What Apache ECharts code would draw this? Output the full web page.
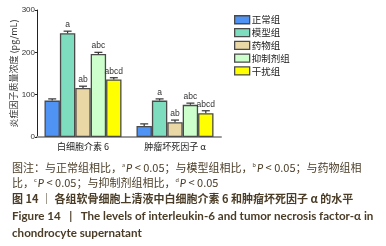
<!DOCTYPE html>
<html><head><meta charset="utf-8">
<script src="https://cdn.jsdelivr.net/npm/echarts@6/dist/echarts.min.js"></script>
<style>html,body{margin:0;padding:0;background:#fff}#c{width:386px;height:246px}</style>
</head><body><div id="c"></div>
<script>
const categories = ['白细胞介素 6', '肿瘤坏死因子 α'];
const groups = ['正常组', '模型组', '药物组', '抑制剂组', '干扰组'];
const normalVals = [86, 26];
const modelVals = [245, 86];
const drugVals = [116, 35];
const inhibVals = [196, 76];
const interfVals = [136, 56];
const normalErr = [90, 31];
const modelErr = [250, 90];
const drugErr = [120, 40];
const inhibErr = [200, 80];
const interfErr = [140, 62];
const normalSig = ['', ''];
const modelSig = ['a', 'a'];
const drugSig = ['ab', 'ab'];
const inhibSig = ['abc', 'abc'];
const interfSig = ['abcd', 'abcd'];
const yTicks = [0, 100, 200, 300];

const vals = [normalVals, modelVals, drugVals, inhibVals, interfVals];
const errs = [normalErr, modelErr, drugErr, inhibErr, interfErr];
const sigs = [normalSig, modelSig, drugSig, inhibSig, interfSig];
const colors = ['#4f94f5', '#7edcbf', '#ead7a6', '#ccffcc', '#ffff00'];
const BW = 15.4;

const series = [];
groups.forEach((g, i) => {
  series.push({
    name: g, type: 'bar', data: vals[i], barWidth: BW, barGap: '0%',
    itemStyle: { color: colors[i], borderColor: '#4a4a4a', borderWidth: 1.3 },
    z: 2
  });
});
groups.forEach((g, i) => {
  series.push({
    type: 'custom', name: g + '_err', z: 5, silent: true,
    data: vals[i].map((v, k) => [k, v, errs[i][k], sigs[i][k]]),
    renderItem: function (params, api) {
      const c = api.value(0);
      const top = api.coord([c, api.value(2)]);
      const base = api.coord([c, api.value(1)]);
      const x = top[0] + (i - 2) * BW;
      const cap = 4;
      const children = [
        { type: 'line', shape: { x1: x, y1: base[1], x2: x, y2: top[1] }, style: { stroke: '#333', lineWidth: 1.2 } },
        { type: 'line', shape: { x1: x - cap, y1: top[1], x2: x + cap, y2: top[1] }, style: { stroke: '#333', lineWidth: 1.2 } }
      ];
      const s = sigs[i][c];
      if (s) {
        children.push({ type: 'text', style: { text: s, x: x, y: top[1] - 2, align: 'center', verticalAlign: 'bottom', fontSize: 8.5, fill: '#333', fontFamily: 'Liberation Sans' } });
      }
      return { type: 'group', children: children };
    }
  });
});

const capColor = '#4a3c26';
const chart = echarts.init(document.getElementById('c'), null, { renderer: 'canvas' });
const rich = {
  t: { fontSize: 11, fontFamily: 'Noto Sans CJK SC', fill: capColor, color: capColor },
  s: { fontSize: 6, fontFamily: 'Lato', verticalAlign: 'top', color: capColor, padding: [0, 1, 6, 0] },
  p: { fontSize: 11, fontFamily: 'Lato', fontStyle: 'italic', color: capColor }
};
function capLine(text, y) {
  return { type: 'text', left: 12, top: y, style: { text: text, rich: rich, fontSize: 11, fontFamily: 'Noto Sans CJK SC', fill: capColor } };
}
chart.setOption({
  animation: false,
  grid: { left: 37, top: 10, width: 184, height: 127 },
  legend: {
    data: groups, orient: 'vertical', left: 229, top: 10,
    itemWidth: 15, itemHeight: 8, itemGap: 3.3, icon: 'rect',
    textStyle: { fontSize: 9.5, color: '#222', fontFamily: 'Noto Sans CJK SC', padding: [0, 0, 0, -3] },
    itemStyle: { borderColor: '#4a4a4a', borderWidth: 1.3 }
  },
  xAxis: {
    type: 'category', data: categories,
    axisLine: { lineStyle: { color: '#9a9a9a', width: 2 } },
    axisTick: { alignWithLabel: true, length: 3, lineStyle: { color: '#9a9a9a' } },
    axisLabel: { fontSize: 9, color: '#222', fontFamily: 'Noto Sans CJK SC', margin: 5 }
  },
  yAxis: {
    type: 'value', min: 0, max: 300, interval: 100,
    name: '炎症因子质量浓度 (pg/mL)', nameLocation: 'middle', nameGap: 18,
    nameTextStyle: { fontSize: 9, color: '#333', fontFamily: 'Noto Sans CJK SC' },
    axisLine: { show: true, lineStyle: { color: '#222', width: 1 } },
    axisTick: { show: true, length: 2, lineStyle: { color: '#222' } },
    axisLabel: { fontSize: 8, color: '#333', margin: 2, fontFamily: 'Liberation Sans', formatter: v => yTicks.includes(v) ? String(v) : '' },
    splitLine: { show: false }
  },
  series: series,
  graphic: [
    capLine('{t|图注：与正常组相比，}{s|a}{p|P}{t| < 0.05；与模型组相比，}{s|b}{p|P}{t| < 0.05；与药物组相}', 162),
    capLine('{t|比，}{s|c}{p|P}{t| < 0.05；与抑制剂组相比，}{s|d}{p|P}{t| < 0.05}', 177),
    { type: 'text', left: 12, top: 193, style: { text: '图 14 ｜ 各组软骨细胞上清液中白细胞介素 6 和肿瘤坏死因子 α 的水平', fontSize: 11, fontWeight: 'bold', fontFamily: 'Noto Sans CJK SC', fill: capColor } },
    { type: 'text', left: 12, top: 210, style: { text: 'Figure 14   |   The levels of interleukin-6 and tumor necrosis factor-α in', fontSize: 11.6, fontWeight: 'bold', fontFamily: 'Lato', fill: capColor } },
    { type: 'text', left: 12, top: 227, style: { text: 'chondrocyte supernatant', fontSize: 11.6, fontWeight: 'bold', fontFamily: 'Lato', fill: capColor } }
  ]
});
</script></body></html>
